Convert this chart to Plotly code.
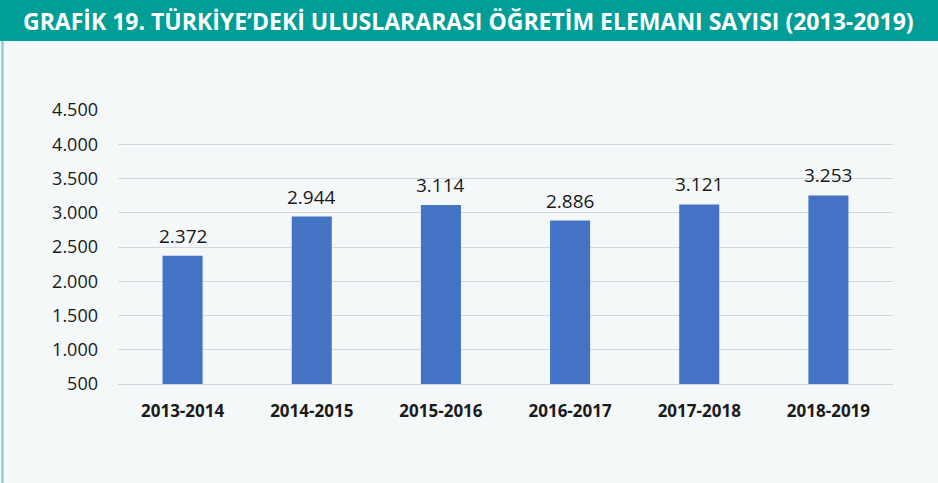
import plotly.graph_objects as go

# Academic years and number of international teaching staff
years = ["2013-2014", "2014-2015", "2015-2016", "2016-2017", "2017-2018", "2018-2019"]
staff = [2372, 2944, 3114, 2886, 3121, 3253]
y_ticks = [500, 1000, 1500, 2000, 2500, 3000, 3500, 4000, 4500]
title_text = "GRAFİK 19. TÜRKİYE’DEKİ ULUSLARARASI ÖĞRETİM ELEMANI SAYISI (2013-2019)"

BG = "#F4F8F9"
TEAL = "#009E96"
BAR = "#4472C4"

W, H = 938, 483
L, R, T, B = 118, 45, 110, 99
pw, ph = W - L - R, H - T - B


def px_x(x):
    return (x - L) / pw


def px_y(y):
    return (H - B - y) / ph


fig = go.Figure()
fig.add_trace(go.Bar(
    x=years, y=staff, marker=dict(color=BAR, line=dict(width=0)),
    hoverinfo="skip",
))

# value labels above each bar
for yr, v in zip(years, staff):
    fig.add_annotation(
        x=yr, y=v, text=f"{v:,}".replace(",", "."), showarrow=False,
        yanchor="bottom", yshift=5,
        font=dict(family="Open Sans", size=19, color="#1a1a1a"),
    )

# header band, left border and title
fig.add_shape(type="rect", xref="paper", yref="paper",
              x0=px_x(0), x1=px_x(W), y0=px_y(41), y1=px_y(0),
              line=dict(width=0), fillcolor=TEAL, layer="below")
fig.add_shape(type="line", xref="paper", yref="paper",
              x0=px_x(2.5), x1=px_x(2.5), y0=px_y(H), y1=px_y(41),
              line=dict(width=2, color="#7CC8C4"), layer="below")
fig.add_annotation(
    xref="paper", yref="paper", x=px_x(468), y=px_y(21),
    text=f"<b>{title_text}</b>", showarrow=False, xanchor="center", yanchor="middle",
    font=dict(family="Open Sans", size=23, color="white"),
)

fig.update_layout(
    width=W, height=H,
    margin=dict(l=L, r=R, t=T, b=B),
    paper_bgcolor=BG, plot_bgcolor=BG,
    separators=",.",
    bargap=0.69,
    showlegend=False,
    xaxis=dict(
        tickfont=dict(family="Open Sans", size=17, color="#1a1a1a", weight="bold"),
        showgrid=False, zeroline=False, showline=True, linecolor="#D0D3D5", linewidth=1,
        ticks="", ticklabelstandoff=12, fixedrange=True,
    ),
    yaxis=dict(
        range=[500, 4500], tickvals=y_ticks, tickformat=",d",
        tickfont=dict(family="Open Sans", size=18, color="#1a1a1a"),
        showgrid=True, gridcolor="#D5D8DA", gridwidth=1, zeroline=False,
        showline=False, ticks="", ticklabelstandoff=19, fixedrange=True,
    ),
)

fig.write_html("out.html")
